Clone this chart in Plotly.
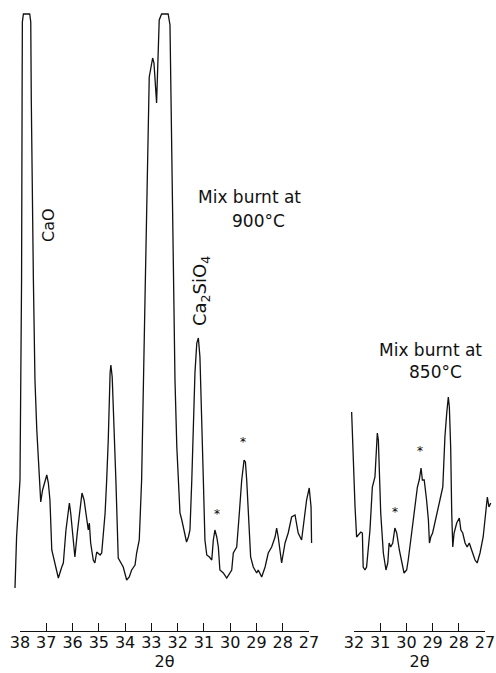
import plotly.graph_objects as go

# ---- data: 2-theta (deg) and intensity (arbitrary units) ----
two_theta_900 = [38.19, 38.13, 38.00, 37.94, 37.92, 37.91, 37.87, 37.63, 37.59, 37.57, 37.49, 37.43,
                 37.36, 37.27, 37.21, 37.14, 37.05, 36.98, 36.92, 36.86, 36.79, 36.67, 36.54, 36.41,
                 36.35, 36.25, 36.16, 36.12, 36.07, 35.99, 35.91, 35.82, 35.72, 35.64, 35.56, 35.46,
                 35.40, 35.36, 35.31, 35.21, 35.15, 35.08, 34.95, 34.89, 34.76, 34.70, 34.64, 34.57,
                 34.54, 34.49, 34.42, 34.35, 34.26, 34.17, 34.07, 33.94, 33.84, 33.75, 33.62, 33.56,
                 33.46, 33.37, 33.31, 33.24, 33.08, 33.02, 32.95, 32.90, 32.80, 32.70, 32.61, 32.36,
                 32.29, 32.25, 32.16, 32.10, 32.03, 31.97, 31.91, 31.84, 31.78, 31.72, 31.66, 31.59,
                 31.53, 31.46, 31.40, 31.34, 31.27, 31.21, 31.15, 31.08, 31.02, 30.96, 30.89, 30.79,
                 30.70, 30.64, 30.58, 30.51, 30.45, 30.39, 30.26, 30.13, 30.01, 29.94, 29.88, 29.75,
                 29.65, 29.56, 29.47, 29.42, 29.37, 29.31, 29.22, 29.12, 28.99, 28.93, 28.80, 28.67,
                 28.55, 28.42, 28.29, 28.23, 28.17, 28.04, 27.91, 27.79, 27.66, 27.53, 27.41, 27.28,
                 27.22, 27.09, 26.99, 26.92, 26.90]
intensity_900 = [2, 53, 110, 310, 490, 568, 576, 576, 568, 490, 310, 210,
                 160, 110, 88, 100, 110, 115, 107, 90, 40, 27, 12, 23,
                 27, 60, 80, 87, 77, 57, 33, 57, 83, 97, 90, 70,
                 60, 67, 47, 30, 27, 38, 35, 37, 77, 110, 150, 217,
                 225, 213, 170, 110, 32, 28, 23, 10, 13, 20, 25, 37,
                 50, 110, 210, 293, 513, 523, 532, 527, 487, 570, 576, 576,
                 565, 490, 310, 210, 143, 103, 77, 70, 63, 53, 48, 53,
                 60, 110, 177, 217, 247, 252, 233, 177, 110, 50, 35, 33,
                 30, 50, 60, 53, 43, 20, 17, 12, 17, 20, 37, 43,
                 77, 110, 130, 128, 110, 77, 33, 23, 17, 20, 13, 23,
                 37, 43, 53, 62, 53, 27, 47, 57, 73, 75, 57, 50,
                 63, 90, 102, 83, 47]

two_theta_850 = [32.09, 32.03, 31.96, 31.90, 31.84, 31.74, 31.68, 31.65, 31.58, 31.52, 31.39, 31.30,
                 31.20, 31.11, 31.07, 31.03, 30.98, 30.88, 30.78, 30.71, 30.66, 30.60, 30.52, 30.44,
                 30.37, 30.27, 30.18, 30.09, 29.99, 29.93, 29.80, 29.67, 29.58, 29.51, 29.44, 29.39,
                 29.32, 29.23, 29.16, 29.12, 29.07, 29.00, 28.91, 28.81, 28.72, 28.61, 28.53, 28.46,
                 28.40, 28.36, 28.31, 28.27, 28.23, 28.18, 28.08, 27.98, 27.92, 27.85, 27.76, 27.68,
                 27.60, 27.51, 27.38, 27.30, 27.19, 27.07, 26.96, 26.91, 26.85, 26.78]
intensity_850 = [178, 127, 83, 53, 55, 58, 57, 23, 20, 23, 60, 103,
                 113, 157, 150, 123, 77, 37, 20, 27, 47, 43, 47, 62,
                 57, 40, 27, 17, 20, 30, 57, 83, 103, 110, 122, 110,
                 110, 90, 70, 47, 53, 57, 67, 77, 90, 103, 153, 177,
                 193, 183, 143, 77, 43, 57, 67, 72, 60, 57, 47, 43,
                 47, 40, 30, 27, 37, 53, 77, 93, 83, 87]

# marked (*) reflections: (2theta, intensity)
star_900_x = [30.51, 29.50]
star_900_y = [68, 140]
star_850_x = [30.44, 29.48]
star_850_y = [70, 131]

ticks_900 = list(range(27, 39))
ticks_850 = list(range(27, 33))

W, H = 496, 673
FONT = "DejaVu Sans"
INK = "#111111"


def px(x):
    return x / W


def py(y):
    return 1 - y / H


fig = go.Figure()
fig.add_trace(go.Scatter(x=two_theta_900, y=intensity_900, mode="lines",
                         line=dict(color=INK, width=1.3), xaxis="x", yaxis="y",
                         showlegend=False, hoverinfo="skip"))
fig.add_trace(go.Scatter(x=two_theta_850, y=intensity_850, mode="lines",
                         line=dict(color=INK, width=1.3), xaxis="x2", yaxis="y",
                         showlegend=False, hoverinfo="skip"))
# empty traces so the scale-bar axes render
fig.add_trace(go.Scatter(x=[], y=[], xaxis="x3", yaxis="y3", showlegend=False, hoverinfo="skip"))
fig.add_trace(go.Scatter(x=[], y=[], xaxis="x4", yaxis="y3", showlegend=False, hoverinfo="skip"))

hidden = dict(visible=False, showgrid=False, zeroline=False, automargin=False)


def scale_axis(dom, rng, vals):
    return dict(domain=dom, range=rng, anchor="y3", automargin=False,
                tickmode="array", tickvals=vals, ticktext=[str(t) for t in vals],
                ticks="inside", ticklen=8, tickwidth=1.2, tickcolor=INK,
                showline=True, linewidth=1.2, linecolor=INK, showgrid=False, zeroline=False,
                ticklabelstandoff=-3,
                tickfont=dict(family=FONT, size=16, color=INK),
                title=dict(text="2θ", font=dict(family=FONT, size=16, color=INK), standoff=4))


fig.update_layout(
    template="none",
    width=W, height=H, autosize=False,
    margin=dict(l=0, r=0, t=0, b=0, pad=0),
    paper_bgcolor="white", plot_bgcolor="white",
    font=dict(family=FONT, color=INK, size=16),
    showlegend=False,
    xaxis=dict(domain=[0, px(330)], range=[38.761, 26.199], anchor="y", **hidden),
    xaxis2=dict(domain=[px(335), 1], range=[32.725, 26.580], anchor="y", **hidden),
    yaxis=dict(domain=[0, 1], range=[-83, 590], anchor="x", **hidden),
    yaxis3=dict(domain=[42 / H, 60 / H], range=[0, 1], anchor="x3", **hidden),
    xaxis3=scale_axis([px(20), px(309)], [38, 27], ticks_900),
    xaxis4=scale_axis([px(354), px(485)], [32, 27], ticks_850),
)

ann = []
lab = dict(xref="paper", yref="paper", showarrow=False, xanchor="center", yanchor="middle")
ann.append(dict(text="CaO", x=px(49), y=py(225), textangle=-90,
                font=dict(family=FONT, size=16, color=INK), **lab))
ann.append(dict(text="Ca<sub>2</sub>SiO<sub>4</sub>", x=px(201), y=py(291), textangle=-90,
                font=dict(family=FONT, size=18, color=INK), **lab))
ann.append(dict(text="Mix burnt at", x=px(249), y=py(197),
                font=dict(family=FONT, size=17, color=INK), **lab))
ann.append(dict(text="900°C", x=px(258), y=py(221),
                font=dict(family=FONT, size=17, color=INK), **lab))
ann.append(dict(text="Mix burnt at", x=px(430), y=py(350),
                font=dict(family=FONT, size=17, color=INK), **lab))
ann.append(dict(text="850°C", x=px(435), y=py(372),
                font=dict(family=FONT, size=17, color=INK), **lab))
for sx, sy in zip(star_900_x, star_900_y):
    ann.append(dict(text="*", x=sx, y=sy, xref="x", yref="y", showarrow=False, xanchor="center",
                    font=dict(family=FONT, size=12, color="#000000"), yanchor="bottom", yshift=-1))
for sx, sy in zip(star_850_x, star_850_y):
    ann.append(dict(text="*", x=sx, y=sy, xref="x2", yref="y", showarrow=False, xanchor="center",
                    font=dict(family=FONT, size=12, color="#000000"), yanchor="bottom", yshift=-1))
fig.update_layout(annotations=ann)

fig.write_html("out.html", config={"displayModeBar": False},
               post_script="document.body.style.margin='0';document.body.style.overflow='hidden';")
